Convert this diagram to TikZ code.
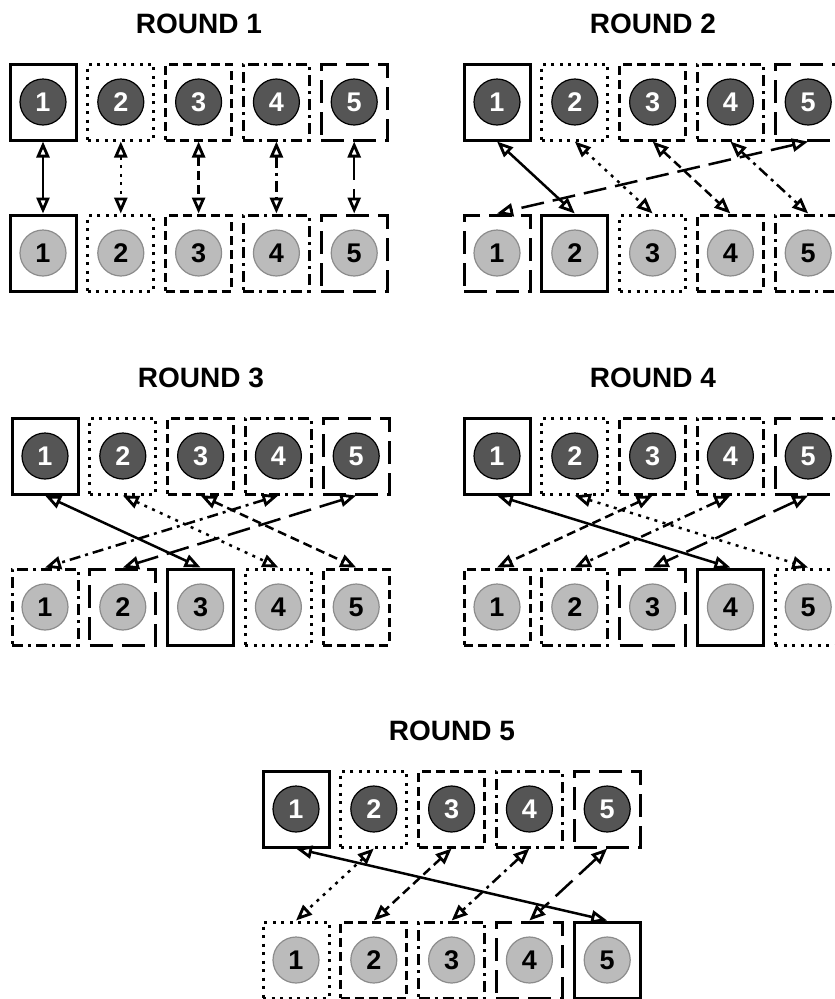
\documentclass[tikz,border=0pt]{standalone}
\usepackage{fontspec}
\setmainfont{Liberation Sans}
\usetikzlibrary{arrows.meta}
\definecolor{darkc}{HTML}{555555}
\definecolor{lightc}{HTML}{BBBBBB}
\definecolor{lightedge}{HTML}{8C8C8C}
\tikzset{
  st1/.style={solid},
  st2/.style={dash pattern=on 3pt off 5.5pt},
  st3/.style={dash pattern=on 9pt off 5pt},
  st4/.style={dash pattern=on 11pt off 5pt on 3pt off 5pt},
  st5/.style={dash pattern=on 23pt off 9pt},
  boxnode/.style={draw=black, line width=3pt, rectangle, minimum width=66pt, minimum height=76pt, inner sep=0pt},
  darkcirc/.style={circle, minimum size=46pt, inner sep=0pt, fill=darkc, draw=black, line width=1.2pt, text=white, font=\bfseries\fontsize{27}{29}\selectfont},
  lightcirc/.style={circle, minimum size=46pt, inner sep=0pt, fill=lightc, draw=lightedge, line width=1.2pt, text=black, font=\bfseries\fontsize{27}{29}\selectfont},
  titlenode/.style={font=\bfseries\fontsize{28}{30}\selectfont, inner sep=0pt},
  arr/.style={line width=2.5pt, {Triangle[open,length=16pt,width=13pt,line width=2.8pt]}-{Triangle[open,length=16pt,width=13pt,line width=2.8pt]}}
}
\newcommand\drawround[3]{%
  \node[titlenode] (title#1) at ({#2+189},{#3-40}) {ROUND #1};
  \foreach \i in {1,...,5}{
    \edef\tmpst{st\i}
    \node[boxnode,\tmpst] (r#1t\i) at ({#2+33+(\i-1)*77.8},{#3+38}) {};
    \node[darkcirc] (r#1tc\i) at (r#1t\i) {\i};
  }
  \foreach \i in {1,...,5}{
    \pgfmathtruncatemacro\sidx{mod(\i-#1+5,5)+1}
    \edef\tmpst{st\sidx}
    \node[boxnode,\tmpst] (r#1b\i) at ({#2+33+(\i-1)*77.8},{#3+151+38}) {};
    \node[lightcirc] (r#1bc\i) at (r#1b\i) {\i};
  }
  \foreach \i in {1,...,5}{
    \pgfmathtruncatemacro\jidx{mod(\i+#1-2,5)+1}
    \edef\tmpst{st\i}
    \draw[\tmpst,arr] (r#1t\i.south) -- (r#1b\jidx.north);
  }
}
\begin{document}
\begin{tikzpicture}[x=1pt,y=-1pt]
\useasboundingbox (0,0) rectangle (835,999);
\clip (0,0) rectangle (835,999);
\drawround{1}{10}{64}
\drawround{2}{464}{64}
\drawround{3}{12}{418}
\drawround{4}{464}{418}
\drawround{5}{263}{771}
\end{tikzpicture}
\end{document}
